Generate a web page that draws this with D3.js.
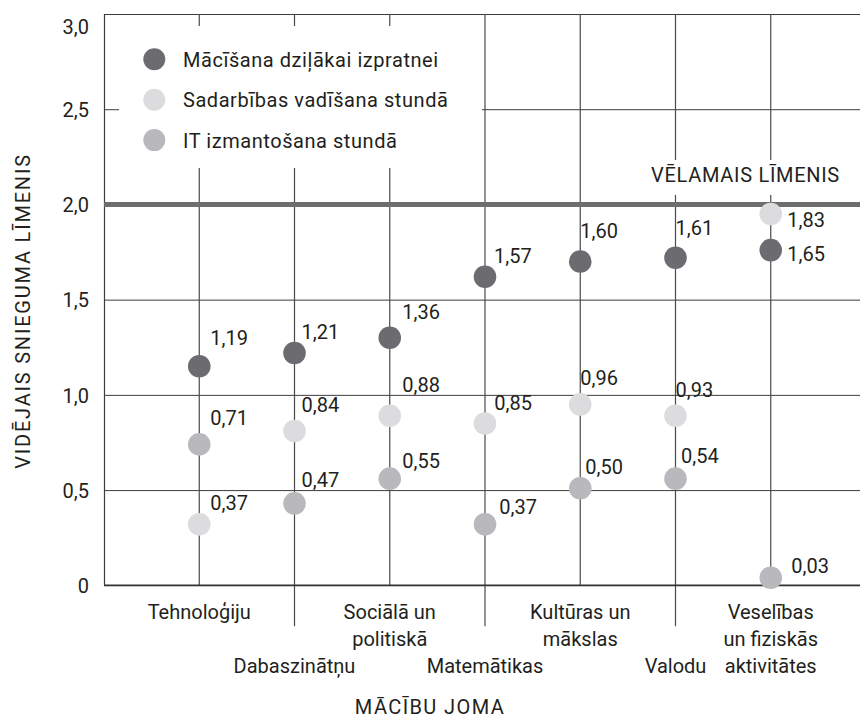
<!DOCTYPE html>
<html>
<head>
<meta charset="utf-8">
<script src="https://cdn.jsdelivr.net/npm/d3@7"></script>
<style>
  html, body { margin: 0; padding: 0; background: #fff; }
  svg { display: block; font-family: Roboto, "Noto Sans", sans-serif; }
</style>
</head>
<body>
<svg id="chart" width="860" height="719"></svg>
<script>
// ---------- DATA ----------
const categories = ["Tehnoloģiju", "Dabaszinātņu", "Sociālā un politiskā", "Matemātikas", "Kultūras un mākslas", "Valodu", "Veselības un fiziskās aktivitātes"];
const categoryLines = [["Tehnoloģiju"], ["Dabaszinātņu"], ["Sociālā un", "politiskā"], ["Matemātikas"], ["Kultūras un", "mākslas"], ["Valodu"], ["Veselības", "un fiziskās", "aktivitātes"]];
const seriesNames = ["Mācīšana dziļākai izpratnei", "Sadarbības vadīšana stundā", "IT izmantošana stundā"];
// printed values (labels)
const deepValues   = [1.19, 1.21, 1.36, 1.57, 1.60, 1.61, 1.65];
const collabValues = [0.37, 0.84, 0.88, 0.85, 0.96, 0.93, 1.83];
const itValues     = [0.71, 0.47, 0.55, 0.37, 0.50, 0.54, 0.03];
// marker heights as drawn in the reference
const deepDrawn    = [1.15, 1.22, 1.30, 1.62, 1.70, 1.72, 1.76];
const collabDrawn  = [0.32, 0.81, 0.89, 0.85, 0.95, 0.89, 1.95];
const itDrawn      = [0.74, 0.43, 0.56, 0.32, 0.51, 0.56, 0.04];
const yTicks = [0, 0.5, 1.0, 1.5, 2.0, 2.5, 3.0];
const targetValue = 2.0;
const targetLabel = "VĒLAMAIS LĪMENIS";
const yTitle = "VIDĒJAIS SNIEGUMA LĪMENIS";
const xTitle = "MĀCĪBU JOMA";

// ---------- LAYOUT / STYLE ----------
const W = 860, H = 719;
const mLeft = 104, mRight = 866, mTop = 14, mBottom = 585.3;
const colors = ["#6b6b70", "#dcdcde", "#b9b9bd"];
const textColor = "#231f20";
const fontSize = 20;
// label offsets [dx, dy] relative to marker centre
const labelOffsets = [
  [[12,-21],[8,-14],[13.5,-18.5],[10,-13.5],[1,-23.5],[1,-23],[17.5,10.7]],
  [[12,-14],[8,-18.7],[13.5,-24.3],[10.3,-13.3],[1,-19.3],[1,-19],[17.5,13.3]],
  [[12,-19.3],[8,-16.6],[13.5,-11],[15.3,-10.7],[6,-13.7],[6.6,-16],[21.6,-4.4]]
];

const svg = d3.select("#chart");
const x = d3.scalePoint().domain(categories).range([mLeft, mRight]).padding(1);
const y = d3.scaleLinear().domain([0, 3]).range([mBottom, mTop]);
const fmt = v => v === 0 ? "0" : d3.format(".2f")(v).replace(".", ",");
const fmtTick = v => v === 0 ? "0" : d3.format(".1f")(v).replace(".", ",");

// horizontal gridlines + y tick labels via axis
const yAxis = svg.append("g")
  .attr("transform", `translate(${mLeft},0)`)
  .call(d3.axisLeft(y).tickValues(yTicks).tickFormat(fmtTick).tickSize(-(W - mLeft)).tickPadding(15));
yAxis.select(".domain").remove();
yAxis.selectAll(".tick line").attr("stroke", "#3d3d3d").attr("stroke-width", 1);
yAxis.selectAll(".tick text")
  .attr("fill", textColor).attr("font-size", fontSize).attr("font-family", "Roboto")
  .attr("dy", d => d === 3 ? "0.98em" : "0.36em");

// left axis line
svg.append("line")
  .attr("x1", mLeft + 0.5).attr("x2", mLeft + 0.5)
  .attr("y1", y(3)).attr("y2", y(0))
  .attr("stroke", "#3d3d3d").attr("stroke-width", 1.2);

// vertical category lines
svg.append("g").selectAll("line").data(categories).join("line")
  .attr("x1", d => x(d)).attr("x2", d => x(d))
  .attr("y1", y(3))
  .attr("y2", (d, i) => i % 2 === 1 ? y(0) + 41 : y(0))
  .attr("stroke", "#4a4a4a").attr("stroke-width", 1.2);

// bottom axis line
svg.append("line")
  .attr("x1", mLeft).attr("x2", W)
  .attr("y1", y(0)).attr("y2", y(0))
  .attr("stroke", "#333").attr("stroke-width", 1.5);

// target line
svg.append("line")
  .attr("x1", mLeft).attr("x2", W)
  .attr("y1", y(targetValue)).attr("y2", y(targetValue))
  .attr("stroke", "#6d6d70").attr("stroke-width", 5);

// target label with white background
const tl = svg.append("g");
tl.append("rect")
  .attr("x", 645).attr("y", 160).attr("width", 200).attr("height", 35)
  .attr("fill", "#fff");
tl.append("text")
  .attr("x", 745.5).attr("y", y(targetValue) - 22.5)
  .attr("text-anchor", "middle")
  .attr("fill", textColor).attr("font-size", fontSize)
  .attr("letter-spacing", 0.7)
  .text(targetLabel);

// x category labels
const xl = svg.append("g");
categories.forEach((c, i) => {
  const startLine = i % 2 === 1 ? 2 : 0;
  const t = xl.append("text")
    .attr("text-anchor", "middle")
    .attr("fill", textColor).attr("font-size", fontSize);
  categoryLines[i].forEach((ln, j) => {
    t.append("tspan").attr("x", x(c)).attr("y", y(0) + 34 + (startLine + j) * 27).text(ln);
  });
});

// legend
const lg = svg.append("g");
lg.append("rect").attr("x", 119).attr("y", 26).attr("width", 363).attr("height", 142).attr("fill", "#fff");
seriesNames.forEach((s, i) => {
  lg.append("circle").attr("cx", 154.3).attr("cy", 59.3 + i * 40.4).attr("r", 11).attr("fill", colors[i]);
  lg.append("text").attr("x", 183).attr("y", 67 + i * 40.4)
    .attr("fill", textColor).attr("font-size", fontSize)
    .attr("letter-spacing", 0.55).text(s);
});

// points + labels
const drawn = [deepDrawn, collabDrawn, itDrawn];
const values = [deepValues, collabValues, itValues];
const pts = svg.append("g");
[2, 1, 0].forEach(si => {
  pts.append("g").selectAll("circle").data(categories).join("circle")
    .attr("cx", d => x(d))
    .attr("cy", (d, i) => y(drawn[si][i]))
    .attr("r", 11.3)
    .attr("fill", colors[si]);
});
[0, 1, 2].forEach(si => {
  pts.append("g").selectAll("text").data(categories).join("text")
    .attr("x", (d, i) => x(d) + labelOffsets[si][i][0] - 1)
    .attr("y", (d, i) => y(drawn[si][i]) + labelOffsets[si][i][1])
    .attr("fill", textColor).attr("font-size", fontSize)
    .text((d, i) => fmt(values[si][i]));
});

// axis titles
svg.append("text")
  .attr("transform", `translate(30,311) rotate(-90)`)
  .attr("text-anchor", "middle")
  .attr("fill", textColor).attr("font-size", fontSize)
  .attr("letter-spacing", 1.8)
  .text(yTitle);
svg.append("text")
  .attr("x", 430).attr("y", 713.5)
  .attr("text-anchor", "middle")
  .attr("fill", textColor).attr("font-size", fontSize)
  .attr("letter-spacing", 1.4)
  .text(xTitle);
</script>
</body>
</html>
